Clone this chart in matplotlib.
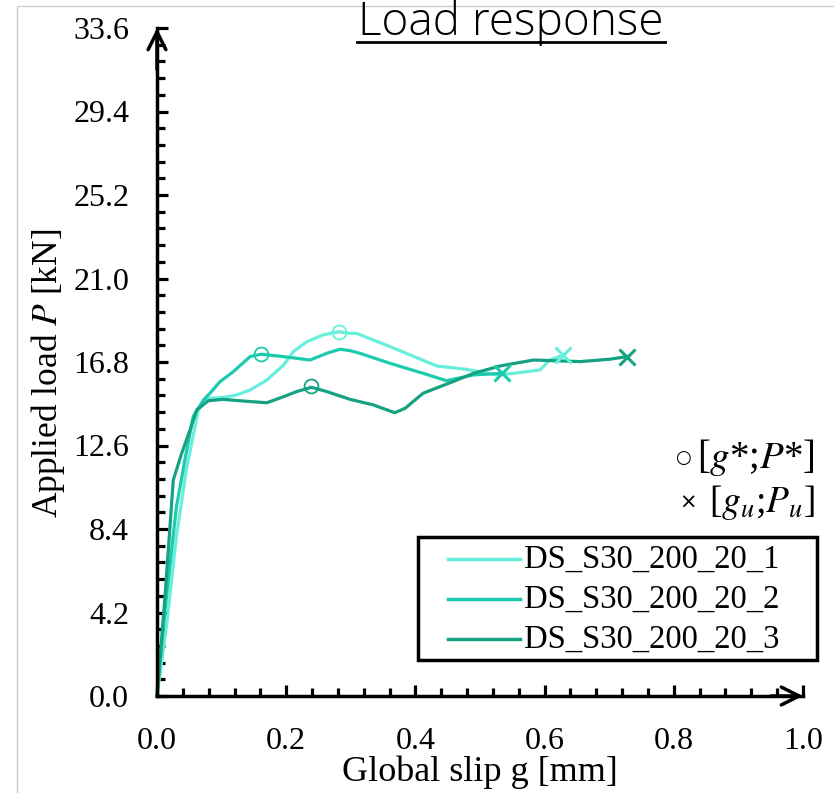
import matplotlib.pyplot as plt
from matplotlib.lines import Line2D
from matplotlib.patches import Rectangle
import numpy as np

plt.rcParams['font.family'] = ['Liberation Serif', 'DejaVu Serif']
plt.rcParams['mathtext.fontset'] = 'stix'

# Test curves: global slip g [mm] vs applied load P [kN]
names = ['DS_S30_200_20_1', 'DS_S30_200_20_2', 'DS_S30_200_20_3']
colors = ['#66f0dc', '#1ccbae', '#14a283']

g1 = [0.0, 0.015, 0.03, 0.045, 0.064, 0.079, 0.103, 0.123, 0.144, 0.170, 0.196, 0.211,
      0.232, 0.257, 0.281, 0.299, 0.309, 0.361, 0.433, 0.479, 0.526, 0.552, 0.593, 0.608, 0.629]
p1 = [0.0, 3.6, 8.0, 11.3, 14.4, 14.97, 15.02, 15.14, 15.39, 15.89, 16.65, 17.32,
      17.82, 18.16, 18.32, 18.24, 18.24, 17.57, 16.60, 16.43, 16.15, 16.23, 16.40, 16.90, 17.15]

g2 = [0.0, 0.013, 0.03, 0.045, 0.056, 0.072, 0.082, 0.0975, 0.118, 0.144, 0.161, 0.196,
      0.237, 0.263, 0.283, 0.299, 0.314, 0.361, 0.412, 0.448, 0.490, 0.534]
p2 = [0.0, 4.5, 9.5, 12.2, 14.05, 14.89, 15.23, 15.81, 16.31, 17.07, 17.19, 17.07,
      16.90, 17.24, 17.44, 17.37, 17.24, 16.73, 16.23, 15.86, 16.15, 16.23]

g3 = [0.0, 0.0124, 0.0252, 0.0382, 0.0511, 0.0615, 0.0794, 0.1026, 0.128, 0.170, 0.1955,
      0.216, 0.239, 0.263, 0.299, 0.335, 0.368, 0.384, 0.412, 0.454, 0.490, 0.531, 0.583,
      0.655, 0.701, 0.727]
p3 = [0.0, 4.99, 10.86, 12.21, 13.38, 14.39, 14.85, 14.92, 14.85, 14.75, 15.05,
      15.31, 15.53, 15.31, 14.92, 14.64, 14.25, 14.47, 15.23, 15.76, 16.23, 16.60, 16.90,
      16.82, 16.94, 17.07]

# [g*;P*] and [gu;Pu] points
g_star = [0.281, 0.161, 0.239]
p_star = [18.32, 17.19, 15.59]
g_u = [0.629, 0.534, 0.727]
p_u = [17.15, 16.23, 17.07]

W, H = 834, 793
fig = plt.figure(figsize=(W / 100, H / 100), dpi=100)
fig.patches.append(Rectangle((17 / W, -0.1), 1.2, 1.1 - 6 / H, transform=fig.transFigure,
                             fill=False, edgecolor='#cfcfcf', lw=1.0))

ax = fig.add_axes([157 / W, (H - 696) / H, (803 - 157) / W, (696 - 28) / H])

for g, p, c in zip([g1, g2, g3], [p1, p2, p3], colors):
    ax.plot(g, p, color=c, lw=2.3, clip_on=False)
for i in range(3):
    ax.plot(g_star[i], p_star[i], 'o', ms=10, mfc='none', mec=colors[i], mew=1.3)
    ax.plot(g_u[i], p_u[i], 'x', ms=11, mec=colors[i], mew=2.2)

ax.set_xlim(0, 1.0)
ax.set_ylim(0, 33.6)
ax.set_xticks(np.arange(0, 1.01, 0.2))
ax.set_xticks(np.arange(0, 1.01, 0.04), minor=True)
ax.set_yticks(np.arange(0, 33.7, 4.2))
ax.set_yticks(np.arange(0, 33.7, 0.84), minor=True)
ax.set_xticklabels([f'{v:.1f}' for v in np.arange(0, 1.01, 0.2)])
ax.set_yticklabels([f'{v:.1f}' for v in np.arange(0, 33.7, 4.2)])
ax.tick_params(which='both', direction='in', width=2.3, labelsize=23)
ax.tick_params(which='major', length=8)
ax.tick_params(which='minor', length=6)
ax.tick_params(axis='x', pad=22)
ax.tick_params(axis='y', pad=20)

for s in ['top', 'right']:
    ax.spines[s].set_visible(False)
for s in ['left', 'bottom']:
    ax.spines[s].set_linewidth(2.5)

arrow = dict(arrowstyle='->', lw=2.5, color='k', mutation_scale=32, shrinkA=0, shrinkB=0)
ax.annotate('', xy=(1.0, 0), xytext=(0.95, 0), arrowprops=arrow, annotation_clip=False)
ax.annotate('', xy=(0, 33.6), xytext=(0, 31.5), arrowprops=arrow, annotation_clip=False)

fig.text(480 / W, 1 - 772 / H, 'Global slip g [mm]', fontsize=26, ha='center', va='center')
fig.text(48 / W, 1 - 373 / H, 'Applied load $P$ [kN]', fontsize=25.5, ha='center', va='center',
         rotation=90)

# title
fig.text(511 / W, 1 - 35 / H, 'Load response', fontsize=33, family='Open Sans',
         weight='light', ha='center', va='baseline')
fig.add_artist(Line2D([357 / W, 665 / W], [1 - 42 / H, 1 - 42 / H], color='k', lw=2))

# marker key
fig.text(683 / W, 1 - 458 / H, '○', fontsize=13, family='DejaVu Sans', ha='center', va='center')
fig.text(815 / W, 1 - 457 / H, '[$g$*;$P$*]', fontsize=28, ha='right', va='center')
fig.text(688 / W, 1 - 503 / H, '×', fontsize=15, family='DejaVu Sans', ha='center', va='center')
fig.text(815 / W, 1 - 502 / H, '[$g_u$;$P_u$]', fontsize=27, ha='right', va='center')

# legend drawn by hand in figure pixels
fig.patches.append(Rectangle((418 / W, 1 - 660 / H), (817 - 418) / W, (660 - 537) / H,
                             transform=fig.transFigure, fill=False, edgecolor='k', lw=2.5))
for i, (n, c) in enumerate(zip(names, colors)):
    yy = 1 - (559 + 40 * i) / H
    fig.add_artist(Line2D([448 / W, 520 / W], [yy, yy], color=c, lw=2.5))
    fig.text(524 / W, yy, n, fontsize=23.5, ha='left', va='center')

fig.savefig('out.png', dpi=100)
